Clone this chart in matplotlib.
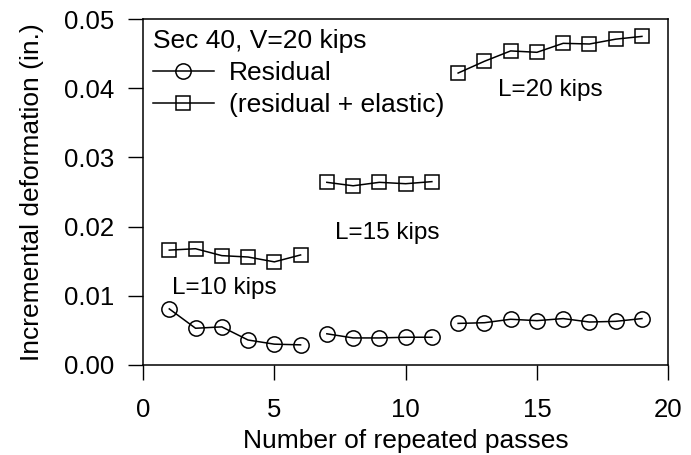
import matplotlib
matplotlib.use('Agg')
import matplotlib.pyplot as plt
from matplotlib import rcParams

rcParams['font.family'] = ['Liberation Sans', 'DejaVu Sans']

# data (three load groups)
passes_10 = [1, 2, 3, 4, 5, 6]
passes_15 = [7, 8, 9, 10, 11]
passes_20 = [12, 13, 14, 15, 16, 17, 18, 19]

resid_10 = [0.0081, 0.0053, 0.0055, 0.0036, 0.0030, 0.0029]
resid_15 = [0.0045, 0.0039, 0.0039, 0.0040, 0.0040]
resid_20 = [0.0060, 0.0061, 0.0066, 0.0064, 0.0067, 0.0062, 0.0063, 0.0067]

total_10 = [0.0166, 0.0168, 0.0158, 0.0156, 0.0149, 0.0159]
total_15 = [0.0264, 0.0259, 0.0264, 0.0262, 0.0265]
total_20 = [0.0422, 0.0439, 0.0454, 0.0452, 0.0465, 0.0464, 0.0471, 0.0475]

xticks = [0, 5, 10, 15, 20]
yticks = [0.00, 0.01, 0.02, 0.03, 0.04, 0.05]

fs_ann = 17.5
fs_leg = 19
fs_tick = 18.5
fs_lab = 19

# figure setup
fig = plt.figure(figsize=(6.91, 4.55), dpi=100, facecolor='white')
ax = fig.add_axes([0.207, 0.198, 0.760, 0.760])

circ = dict(color='k', linewidth=1.1, marker='o', markersize=11,
            markerfacecolor='none', markeredgecolor='k', markeredgewidth=1.1)
sq = dict(color='k', linewidth=1.1, marker='s', markersize=9.5,
          markerfacecolor='none', markeredgecolor='k', markeredgewidth=1.1)

groups = [(passes_10, resid_10, total_10),
          (passes_15, resid_15, total_15),
          (passes_20, resid_20, total_20)]
for i, (x, r, t) in enumerate(groups):
    ax.plot(x, r, label='Residual' if i == 0 else None, **circ)
    ax.plot(x, t, label='(residual + elastic)' if i == 0 else None, **sq)

ax.text(1.1, 0.0111, 'L=10 kips', fontsize=fs_ann, va='center')
ax.text(7.3, 0.0191, 'L=15 kips', fontsize=fs_ann, va='center')
ax.text(13.5, 0.0397, 'L=20 kips', fontsize=fs_ann, va='center')

leg = ax.legend(loc='upper left', title='Sec 40, V=20 kips', frameon=False,
                fontsize=fs_leg, title_fontsize=fs_leg, handlelength=2.3,
                handletextpad=0.57, labelspacing=0.3,
                borderaxespad=0.0, borderpad=0.0, alignment='left',
                bbox_to_anchor=(0.019, 0.971))

ax.set_xlim(0, 20)
ax.set_ylim(0, 0.05)
ax.set_xticks(xticks)
ax.set_yticks(yticks)
ax.set_yticklabels(['%.2f' % v for v in yticks])
ax.tick_params(direction='out', length=11, width=1.0, labelsize=fs_tick,
               colors='k')
ax.tick_params(axis='y', pad=10)
ax.tick_params(axis='x', pad=13)
for s in ax.spines.values():
    s.set_linewidth(1.1)

ax.set_xlabel('Number of repeated passes', fontsize=fs_lab, labelpad=5)
ax.set_ylabel('Incremental deformation (in.)', fontsize=fs_lab, labelpad=14)

fig.savefig('out.png', dpi=100)
